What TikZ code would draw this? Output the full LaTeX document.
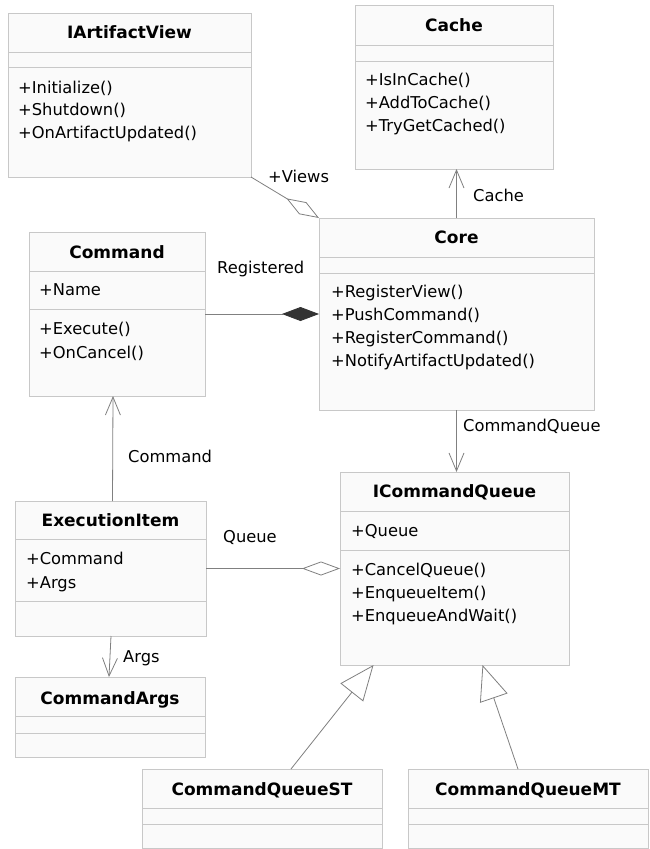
\documentclass[tikz,border=0pt]{standalone}
\usepackage{fontspec}
\setmainfont{DejaVu Sans}
\usetikzlibrary{arrows.meta,calc}

\definecolor{boxline}{RGB}{200,200,200}
\definecolor{boxfill}{RGB}{250,250,250}
\definecolor{wire}{RGB}{128,128,128}
\definecolor{darkfill}{RGB}{51,51,51}

\tikzset{
  cls/.style={draw=boxline, fill=boxfill, line width=0.9pt, inner sep=0pt, outer sep=0pt, anchor=north west},
  sep/.style={draw=boxline, line width=0.9pt},
  ttl/.style={anchor=base, inner sep=0pt, font=\fontsize{17}{20}\selectfont\bfseries},
  txt/.style={anchor=base west, inner sep=0pt, font=\fontsize{16.3}{20}\selectfont},
  lbl/.style={anchor=base west, inner sep=0pt, font=\fontsize{16.3}{20}\selectfont},
  wirestyle/.style={draw=wire, line width=0.8pt},
  navarrow/.style={wirestyle, -{Straight Barb[length=18pt, width=15pt, line width=0.8pt]}},
  aggr/.style={wirestyle, -{Diamond[open, fill=white, length=38pt, width=14pt, line width=0.8pt]}},
  compo/.style={wirestyle, -{Diamond[color=darkfill, fill=darkfill, length=37pt, width=14pt]}},
  inherit/.style={wirestyle, -{Triangle[open, fill=white, length=35pt, width=29pt, line width=0.8pt]}},
}

% Draws the two compartment dividers of a class box
\newcommand{\classdividers}[3]{%
  \draw[sep] (#1.west |- 0,#2) -- (#1.east |- 0,#2);
  \draw[sep] (#1.west |- 0,#3) -- (#1.east |- 0,#3);
}

\begin{document}
\begin{tikzpicture}[x=1pt, y=-1pt]
\useasboundingbox (0,0) rectangle (649,849);
\fill[white] (0,0) rectangle (649,849);

% IArtifactView
\node[cls, minimum width=243, minimum height=164] (iav) at (8,13) {};
\classdividers{iav}{52}{67}
\node[ttl] (iavt) at ($(iav.north |- 0,38)$) {IArtifactView};
\node[txt] (iav1) at (18,93) {+Initialize()};
\node[txt] (iav2) at (18,115) {+Shutdown()};
\node[txt] (iav3) at (18,138) {+OnArtifactUpdated()};

% Cache
\node[cls, minimum width=198, minimum height=164] (cache) at (355,5) {};
\classdividers{cache}{45}{61}
\node[ttl] (cachet) at ($(cache.north |- 0,31)$) {Cache};
\node[txt] (cache1) at (365,85) {+IsInCache()};
\node[txt] (cache2) at (365,108) {+AddToCache()};
\node[txt] (cache3) at (365,131) {+TryGetCached()};

% Core
\node[cls, minimum width=275, minimum height=192] (core) at (319,218) {};
\classdividers{core}{257}{273}
\node[ttl] (coret) at ($(core.north |- 0,243)$) {Core};
\node[txt] (core1) at (331,297) {+RegisterView()};
\node[txt] (core2) at (331,320) {+PushCommand()};
\node[txt] (core3) at (331,343) {+RegisterCommand()};
\node[txt] (core4) at (331,366) {+NotifyArtifactUpdated()};

% Command
\node[cls, minimum width=176, minimum height=164] (command) at (29,232) {};
\classdividers{command}{271}{309}
\node[ttl] (commandt) at ($(command.north |- 0,258)$) {Command};
\node[txt] (command1) at (39,295) {+Name};
\node[txt] (command2) at (39,334) {+Execute()};
\node[txt] (command3) at (39,358) {+OnCancel()};

% ExecutionItem
\node[cls, minimum width=191, minimum height=135] (exec) at (15,501) {};
\classdividers{exec}{539}{601}
\node[ttl] (exect) at ($(exec.north |- 0,526)$) {ExecutionItem};
\node[txt] (exec1) at (26,564) {+Command};
\node[txt] (exec2) at (26,588) {+Args};

% CommandArgs
\node[cls, minimum width=190, minimum height=80] (cargs) at (15,677) {};
\classdividers{cargs}{716}{733}
\node[ttl] (cargst) at ($(cargs.north |- 0,704)$) {CommandArgs};

% ICommandQueue
\node[cls, minimum width=229, minimum height=193] (icq) at (340,472) {};
\classdividers{icq}{511}{550}
\node[ttl] (icqt) at ($(icq.north |- 0,497)$) {ICommandQueue};
\node[txt] (icq1) at (351,536) {+Queue};
\node[txt] (icq2) at (351,575) {+CancelQueue()};
\node[txt] (icq3) at (351,598) {+EnqueueItem()};
\node[txt] (icq4) at (351,621) {+EnqueueAndWait()};

% CommandQueueST
\node[cls, minimum width=240, minimum height=79] (qst) at (142,769) {};
\classdividers{qst}{808}{824}
\node[ttl] (qstt) at ($(qst.north |- 0,795)$) {CommandQueueST};

% CommandQueueMT
\node[cls, minimum width=240, minimum height=79] (qmt) at (408,769) {};
\classdividers{qmt}{808}{824}
\node[ttl] (qmtt) at ($(qmt.north |- 0,795)$) {CommandQueueMT};

% Associations
\draw[aggr] (iav.south east) -- (core.north west);
\node[lbl] (viewsl) at (268,182) {+Views};

\draw[navarrow] (core.north) -- (core.north |- cache.south);
\node[lbl] (cachel) at (473,201) {Cache};

\draw[compo] (command.east) -- (command.east -| core.west);
\node[lbl] (regl) at (217,273) {Registered};

\draw[navarrow] ($(exec.north)+(2,0)$) -- ($(command.south)+(-4,0)$);
\node[lbl] (cmdl) at (128,462) {Command};

\draw[navarrow] (core.south) -- (core.south |- icq.north);
\node[lbl] (cql) at (463,431) {CommandQueue};

\draw[aggr] (exec.east) -- (exec.east -| icq.west);
\node[lbl] (queuel) at (223,542) {Queue};

\draw[navarrow] ($(exec.south)+(0.5,0)$) -- ($(cargs.north)+(-1,0)$);
\node[lbl] (argsl) at (123,662) {Args};

% Generalizations
\draw[inherit] ($(qst.north)+(29,0)$) -- ($(icq.south)+(-81,0)$);
\draw[inherit] ($(qmt.north)+(-10,0)$) -- ($(icq.south)+(28,0)$);
\end{tikzpicture}
\end{document}
